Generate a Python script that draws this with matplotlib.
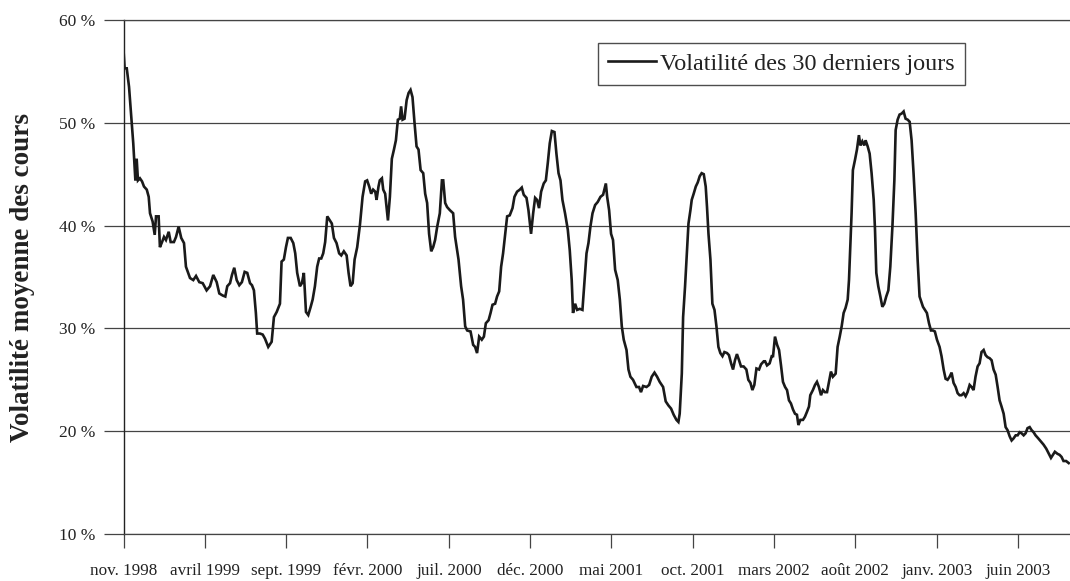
import matplotlib
matplotlib.use("Agg")
import matplotlib.pyplot as plt

# x: months elapsed since November 1998, y: volatility in %
mois = [
 0.00,0.07,0.20,0.34,0.46,0.60,0.73,0.81,0.89,1.01,1.14,1.26,1.43,1.55,1.63,1.79,1.92,2.00,2.16,2.24,
 2.37,2.49,2.61,2.78,2.90,3.10,3.23,3.39,3.55,3.72,3.84,4.09,4.29,4.46,4.66,4.87,5.11,5.32,5.52,5.73,
 5.89,6.10,6.26,6.38,6.55,6.67,6.81,6.96,7.12,7.28,7.45,7.61,7.78,7.90,8.02,8.14,8.22,8.39,8.56,8.70,
 8.90,9.11,9.25,9.42,9.62,9.72,9.86,9.99,10.11,10.28,10.44,10.56,10.68,10.85,10.97,11.09,11.22,11.36,11.51,11.63,
 11.77,11.91,12.03,12.16,12.28,12.40,12.53,12.69,12.81,12.94,13.10,13.26,13.39,13.55,13.72,13.84,13.96,14.09,14.21,14.37,
 14.54,14.70,14.86,14.98,15.11,15.23,15.35,15.48,15.56,15.68,15.76,15.89,15.97,16.09,16.26,16.38,16.50,16.63,16.75,16.87,
 16.99,17.07,17.16,17.28,17.41,17.53,17.65,17.77,17.90,18.02,18.14,18.27,18.43,18.55,18.67,18.79,18.92,19.04,19.16,19.29,
 19.45,19.58,19.66,19.78,19.90,20.07,20.27,20.39,20.60,20.76,20.88,21.01,21.13,21.34,21.50,21.62,21.74,21.87,22.03,22.16,
 22.28,22.45,22.57,22.69,22.85,22.97,23.10,23.22,23.34,23.47,23.59,23.75,23.92,24.04,24.20,24.37,24.49,24.61,24.78,24.90,
 25.06,25.19,25.31,25.43,25.55,25.68,25.84,25.97,26.09,26.21,26.34,26.50,26.62,26.75,26.87,26.99,27.15,27.32,27.44,27.56,
 27.64,27.77,27.89,28.06,28.22,28.35,28.47,28.59,28.71,28.84,29.00,29.16,29.33,29.49,29.66,29.74,29.86,29.98,30.10,30.23,
 30.39,30.52,30.64,30.76,30.93,31.05,31.17,31.33,31.54,31.70,31.82,31.95,32.16,32.32,32.48,32.65,32.81,32.97,33.18,33.34,
 33.51,33.67,33.83,34.00,34.12,34.20,34.33,34.41,34.53,34.65,34.74,34.86,34.94,35.06,35.19,35.31,35.43,35.55,35.68,35.80,
 35.88,35.97,36.09,36.21,36.34,36.46,36.58,36.70,36.83,36.95,37.11,37.23,37.36,37.48,37.60,37.72,37.85,37.97,38.13,38.30,
 38.42,38.55,38.67,38.79,38.92,39.08,39.20,39.37,39.45,39.57,39.73,39.86,39.94,40.06,40.19,40.31,40.43,40.55,40.68,40.80,
 40.92,41.04,41.17,41.29,41.41,41.50,41.62,41.78,41.90,42.03,42.15,42.23,42.39,42.52,42.64,42.76,42.89,43.01,43.13,43.26,
 43.38,43.50,43.62,43.79,43.91,44.04,44.16,44.28,44.40,44.53,44.61,44.69,44.77,44.85,44.98,45.10,45.22,45.31,45.43,45.55,
 45.63,45.76,45.88,46.00,46.13,46.21,46.29,46.41,46.54,46.66,46.78,46.90,47.03,47.15,47.28,47.40,47.48,47.60,47.72,47.85,
 47.97,48.09,48.22,48.34,48.46,48.58,48.71,48.83,48.95,49.16,49.28,49.40,49.53,49.65,49.77,49.89,50.02,50.18,50.30,50.43,
 50.55,50.67,50.80,50.92,51.04,51.17,51.29,51.41,51.53,51.66,51.78,51.90,52.03,52.15,52.27,52.39,52.52,52.64,52.76,52.89,
 53.01,53.13,53.26,53.38,53.50,53.63,53.75,53.87,53.99,54.12,54.24,54.36,54.49,54.61,54.73,54.86,54.98,55.10,55.22,55.35,
 55.47,55.59,55.72,55.84,55.96,56.08,56.25,56.41,56.57,56.74,56.90,57.03,57.15,57.27,57.43,57.56,57.68,57.80,57.96,58.12,
]
volatilite = [
 57.1,55.3,55.3,53.5,50.9,48.0,44.4,46.5,44.4,44.6,44.3,43.8,43.5,42.8,41.2,40.4,39.1,40.9,40.9,37.9,
 38.4,38.9,38.6,39.4,38.4,38.4,38.9,39.9,38.8,38.3,36.0,34.9,34.7,35.1,34.5,34.4,33.7,34.1,35.2,34.5,
 33.4,33.2,33.1,34.1,34.4,35.2,35.9,34.7,34.2,34.5,35.5,35.4,34.4,34.2,33.7,31.5,29.5,29.5,29.4,29.0,
 28.2,28.7,31.1,31.6,32.4,36.5,36.7,37.9,38.8,38.8,38.3,37.3,35.4,34.1,34.4,35.4,31.6,31.3,32.1,32.8,
 34.1,36.0,36.8,36.8,37.3,38.4,40.9,40.5,40.2,38.8,38.3,37.3,37.1,37.5,37.1,35.4,34.1,34.4,36.7,37.9,
 40.1,42.8,44.3,44.4,43.8,43.1,43.5,43.3,42.5,43.8,44.4,44.6,43.5,43.1,40.5,42.8,46.5,47.4,48.3,50.3,
 50.4,51.6,50.3,50.4,52.2,52.9,53.2,52.5,49.9,47.7,47.4,45.4,45.1,43.1,42.2,39.2,37.5,37.9,38.6,39.9,
 41.2,44.4,44.4,42.2,41.8,41.5,41.2,38.9,36.7,34.1,32.8,30.2,29.8,29.7,28.4,28.2,27.6,29.2,28.9,29.2,
 30.5,30.8,31.5,32.3,32.4,33.1,33.6,36.0,37.3,39.2,40.9,41.0,41.7,42.8,43.3,43.5,43.7,43.0,42.7,41.5,
 39.2,41.2,42.7,42.5,41.7,43.3,44.1,44.4,46.1,48.0,49.2,49.1,47.0,45.1,44.4,42.5,41.2,39.6,37.6,34.7,
 31.5,32.4,31.8,31.9,31.8,34.7,37.3,38.3,39.9,41.2,42.0,42.3,42.8,43.0,44.1,42.8,41.5,39.2,38.6,35.7,
 34.7,32.8,30.2,28.9,27.9,26.0,25.3,25.0,24.3,24.3,23.8,24.4,24.3,24.5,25.3,25.7,25.3,24.8,24.3,22.9,
 22.5,22.2,21.6,21.1,20.9,21.7,25.6,31.1,34.1,37.6,40.2,41.5,42.5,43.1,43.8,44.2,44.8,45.1,45.0,43.8,
 41.8,39.2,36.7,32.4,31.8,30.2,28.2,27.6,27.3,27.7,27.6,27.4,26.6,26.0,26.9,27.5,26.9,26.3,26.3,26.0,
 25.0,24.7,24.0,24.5,26.1,26.0,26.5,26.8,26.8,26.4,26.6,27.3,27.3,29.2,28.4,27.9,26.4,24.8,24.3,24.0,
 23.0,22.7,22.1,21.7,21.6,20.6,21.1,21.1,21.4,21.9,22.4,23.5,24.0,24.5,24.8,24.3,23.5,24.0,23.8,23.8,
 24.8,25.8,25.3,25.6,28.2,29.2,30.2,31.5,32.0,32.8,34.7,37.9,41.2,45.4,46.4,47.4,48.8,47.8,48.2,47.8,
 48.3,47.7,47.0,45.1,42.5,39.6,35.4,34.1,33.1,32.1,32.4,33.1,33.7,36.0,39.9,44.4,49.3,50.3,50.8,50.9,
 51.1,50.4,50.3,50.1,48.3,45.1,41.2,36.7,33.1,32.1,31.8,31.5,30.5,29.8,29.8,29.7,28.9,28.2,27.3,26.0,
 25.1,25.0,25.3,25.7,24.7,24.3,23.7,23.5,23.5,23.7,23.4,23.8,24.5,24.3,24.0,25.3,26.3,26.6,27.7,27.9,
 27.4,27.2,27.1,26.9,26.0,25.5,24.3,23.0,22.4,21.7,20.4,20.1,19.5,19.1,19.3,19.6,19.6,19.9,19.8,19.6,
 19.8,20.3,20.4,20.1,19.9,19.6,19.3,19.0,18.7,18.3,17.8,17.4,17.7,18.0,17.8,17.7,17.5,17.1,17.1,16.9,
]

tick_mois = [0, 5, 10, 15, 20, 25, 30, 35, 40, 45, 50, 55]
tick_labels = ["nov. 1998", "avril 1999", "sept. 1999", "févr. 2000", "juil. 2000",
               "déc. 2000", "mai 2001", "oct. 2001", "mars 2002", "août 2002",
               "janv. 2003", "juin 2003"]
y_ticks = [10, 20, 30, 40, 50, 60]
y_labels = ["10 %", "20 %", "30 %", "40 %", "50 %", "60 %"]

plt.rcParams["font.family"] = ["Liberation Serif", "DejaVu Serif"]

fig = plt.figure(figsize=(10.70, 5.81), dpi=100)
ax = fig.add_axes([123.5 / 1070, 1 - 534 / 581, 1 - 123.5 / 1070, (534 - 20) / 581])

ax.plot(mois, volatilite, color="#1a1a1a", lw=1.9, solid_joinstyle="miter",
        label="Volatilité des 30 derniers jours")

ax.set_xlim(0, 58.2)
ax.set_ylim(10, 60)
ax.set_yticks(y_ticks)
ax.set_yticklabels(y_labels, fontsize=12.5, color="#222222")
ax.set_xticks(tick_mois)
ax.set_xticklabels(tick_labels, fontsize=12.3, color="#222222")

ax.yaxis.grid(True, color="#444444", lw=0.9)
ax.set_axisbelow(True)
ax.spines["right"].set_visible(False)
for s in ["top", "bottom"]:
    ax.spines[s].set_color("#444444")
    ax.spines[s].set_linewidth(0.9)
ax.spines["left"].set_color("#222222")
ax.spines["left"].set_linewidth(1.0)
ax.tick_params(axis="y", length=14.5, width=0.9, color="#444444", pad=6)
ax.tick_params(axis="x", length=10, width=0.9, color="#444444", pad=11)

ax.set_ylabel("Volatilité moyenne des cours", fontsize=19.5, fontweight="bold",
              color="#222222")
ax.yaxis.set_label_coords(-0.094, 0.5)

leg = ax.legend(loc="upper left", bbox_to_anchor=(0.501, 0.956), borderaxespad=0,
                fontsize=17.4, frameon=True, fancybox=False, edgecolor="#222222",
                handlelength=2.0, handletextpad=0.15, borderpad=0.42)
leg.get_frame().set_linewidth(1.0)
for t in leg.get_texts():
    t.set_color("#222222")

fig.savefig("out.png", dpi=100)
